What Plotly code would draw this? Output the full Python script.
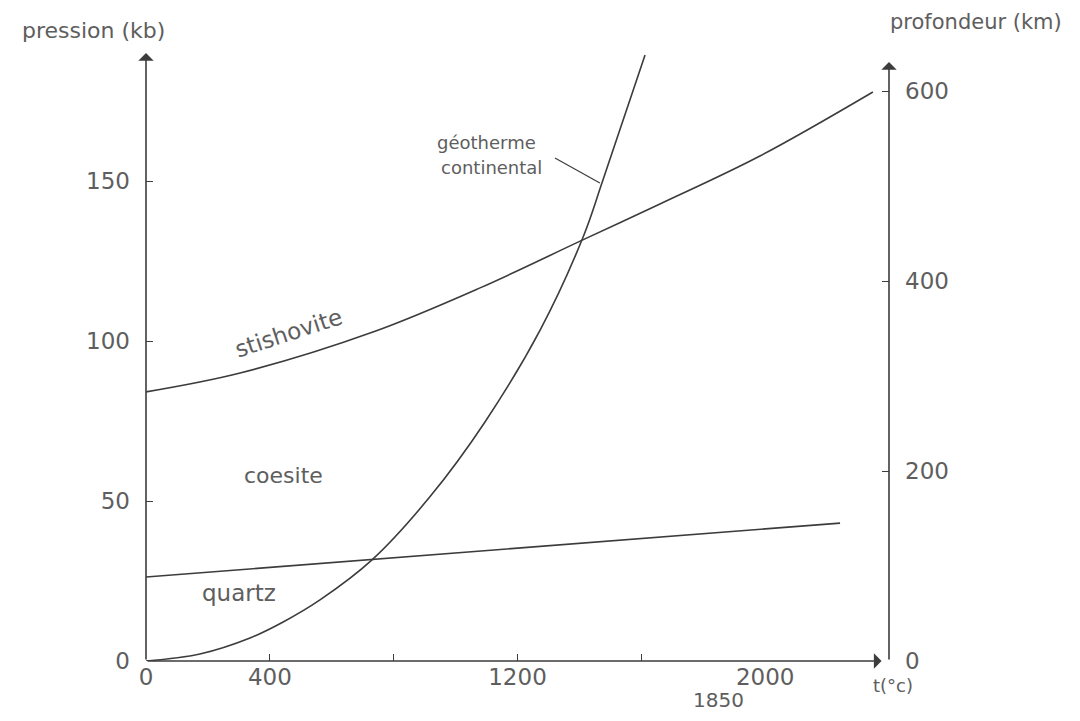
import plotly.graph_objects as go

# ---- data (temperature in °C, pression in kb) ----
geo_t = [0, 174, 336, 443, 562, 730, 917, 1095, 1273, 1412, 1476, 1612]
geo_p = [0, 2.2, 7.2, 12.2, 19.1, 31.6, 51.3, 74.7, 103.4, 132.5, 150.3, 189.4]

stish_t = [0, 304, 733, 1079, 1411, 1660, 1983, 2348]
stish_p = [84.1, 90.0, 102.8, 116.6, 131.6, 142.8, 157.8, 177.8]

quartz_t = [0, 2242]
quartz_p = [26.25, 43.1]

leader_t = [1321, 1466]
leader_p = [157.2, 149.4]

x_tick_vals = [0, 400, 1200, 2000]
x_tick_text = ["0", "400", "1200", "2000"]
x_minor_ticks = [400, 800, 1200, 1600]
x_extra_label = 1850
y_tick_vals = [0, 50, 100, 150]
y2_tick_vals = [0, 200, 400, 600]

X_MAX = 2400
Y_MAX = 190
Y2_MAX = 640

LINE = "#3c3c3c"
TXT = "#5e5e5e"
FONT = "DejaVu Sans"

fig = go.Figure()
line_style = dict(color=LINE, width=1.6)
fig.add_trace(go.Scatter(x=geo_t, y=geo_p, mode="lines",
                         line=dict(shape="spline", smoothing=1.0, **line_style),
                         hoverinfo="skip", showlegend=False))
fig.add_trace(go.Scatter(x=stish_t, y=stish_p, mode="lines",
                         line=dict(shape="spline", smoothing=1.0, **line_style),
                         hoverinfo="skip", showlegend=False))
fig.add_trace(go.Scatter(x=quartz_t, y=quartz_p, mode="lines", line=line_style,
                         hoverinfo="skip", showlegend=False))
fig.add_trace(go.Scatter(x=leader_t, y=leader_p, mode="lines", line=dict(color=LINE, width=1.2),
                         hoverinfo="skip", showlegend=False))
# invisible trace to activate the right axis
fig.add_trace(go.Scatter(x=[0], y=[0], yaxis="y2", mode="markers", marker=dict(opacity=0),
                         hoverinfo="skip", showlegend=False))

tickfont = dict(family=FONT, size=23, color=TXT)

fig.update_layout(
    width=1080, height=721,
    margin=dict(l=138, r=199, t=45, b=68),
    plot_bgcolor="white", paper_bgcolor="white",
    xaxis=dict(range=[0, X_MAX], showgrid=False, zeroline=False, showline=False,
               tickmode="array", tickvals=x_tick_vals, ticktext=x_tick_text, ticks="",
               tickfont=tickfont, ticklabelstandoff=0,
               minor=dict(tickmode="array", tickvals=x_minor_ticks, ticks="inside",
                          ticklen=7, tickwidth=1.3, tickcolor=LINE, showgrid=False)),
    yaxis=dict(range=[0, Y_MAX], showgrid=False, zeroline=False, showline=False,
               tickmode="array", tickvals=y_tick_vals, ticks="inside", ticklen=7,
               tickwidth=1.3, tickcolor=LINE, tickfont=tickfont, ticklabelstandoff=15),
    yaxis2=dict(range=[0, Y2_MAX], overlaying="y", side="right", showgrid=False,
                zeroline=False, showline=False, tickmode="array", tickvals=y2_tick_vals,
                ticks="inside", ticklen=7, tickwidth=1.3, tickcolor=LINE,
                tickfont=tickfont, ticklabelstandoff=15),
)

arrow = dict(showarrow=True, arrowhead=1, arrowsize=1.6, arrowwidth=1.6, arrowcolor=LINE,
             xref="x", yref="y", axref="x", ayref="y", text="")
fig.add_annotation(x=0, y=Y_MAX, ax=0, ay=0, **arrow)
fig.add_annotation(x=X_MAX, y=Y_MAX * 0.985, ax=X_MAX, ay=0, **arrow)
fig.add_annotation(x=X_MAX * 0.99, y=0, ax=0, ay=0, **arrow)

def label(text, x, y, size=18, angle=0, xref="x", yref="y", xanchor="center"):
    fig.add_annotation(text=text, x=x, y=y, xref=xref, yref=yref, showarrow=False,
                       textangle=angle, xanchor=xanchor, yanchor="middle",
                       font=dict(family=FONT, size=size, color=TXT))

label("pression (kb)", -0.0713, 1.0378, size=22, xref="paper", yref="paper")
label("profondeur (km)", 1.117, 1.051, size=21, xref="paper", yref="paper")
label("t(°c)", 1.006, -0.040, size=18, xref="paper", yref="paper")
label(str(x_extra_label), x_extra_label, -0.064, size=20, yref="paper")
label("stishovite", 459, 102.5, size=23, angle=-18)
label("coesite", 443, 58.1, size=22)
label("quartz", 300, 21.3, size=23)
label("géotherme", 1265, 161.9, size=18, xanchor="right")
label("continental", 1287, 154.1, size=18, xanchor="right")

fig.write_html("out.html")
